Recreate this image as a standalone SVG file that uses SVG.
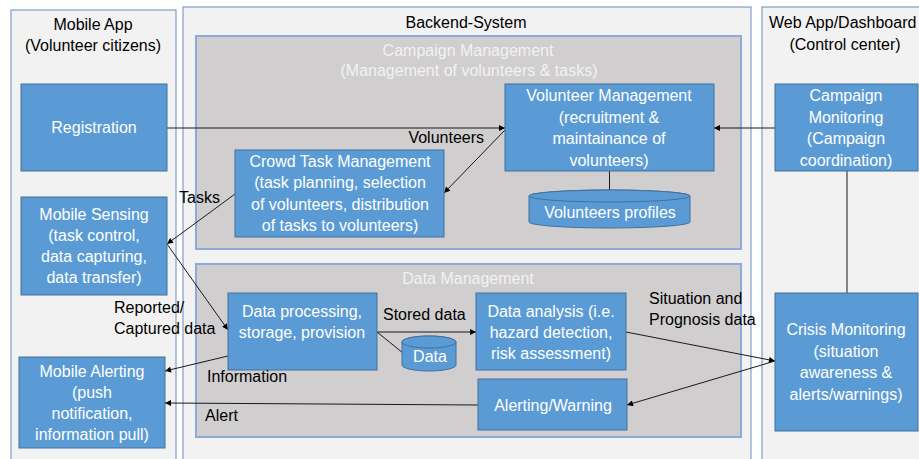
<svg xmlns="http://www.w3.org/2000/svg" width="919" height="459" viewBox="0 0 919 459">
<defs>
<marker id="arr" viewBox="0 0 10 10" refX="10" refY="5" markerWidth="7" markerHeight="6" markerUnits="userSpaceOnUse" orient="auto">
<path d="M0,0 L10,5 L0,10 Z" fill="#000"/>
</marker>
<style>
text{font-family:"Liberation Sans",Arial,sans-serif;font-size:16px}
.panel{fill:#f2f2f2;stroke:#7f9dc9;stroke-width:1.2}
.sub{fill:#d0cece;stroke:#8eaadb;stroke-width:2}
.box{fill:#5b9bd5;stroke:#41719c;stroke-width:1}
.w{fill:#fff;text-anchor:middle}
.t{fill:#f2f2f2;text-anchor:middle}
.h{fill:#000;text-anchor:middle}
.l{fill:#000}
.c{fill:none;stroke:#1a1a1a;stroke-width:1}
.ca{fill:none;stroke:#1a1a1a;stroke-width:1;marker-end:url(#arr)}
</style>
</defs>
<rect width="919" height="459" fill="#fff"/>

<g id="mobile-app">
<rect class="panel" x="11" y="10" width="165" height="470"/>
<text class="h" x="93" y="30">Mobile App</text>
<text class="h" x="93" y="51">(Volunteer citizens)</text>
</g>
<g id="backend">
<rect class="panel" x="183" y="7" width="568" height="470"/>
<text class="h" x="466" y="28">Backend-System</text>
</g>
<g id="web-app">
<rect class="panel" x="762" y="7" width="170" height="470"/>
<text class="l" x="769" y="28">Web App/Dashboard</text>
<text class="h" x="845" y="50">(Control center)</text>
</g>
<g id="campaign-management">
<rect class="sub" x="196" y="36" width="545" height="213"/>
<text class="t" x="468" y="56">Campaign Management</text>
<text class="t" x="469" y="76">(Management of volunteers &amp; tasks)</text>
</g>
<g id="data-management">
<rect class="sub" x="196" y="264" width="545" height="173"/>
<text class="t" x="468" y="284">Data Management</text>
</g>

<g id="connectors">
<line class="ca" x1="167" y1="128" x2="505" y2="128"/>
<line class="ca" x1="775" y1="128" x2="714" y2="128"/>
<line class="ca" x1="505" y1="130" x2="444" y2="193"/>
<line class="ca" x1="235" y1="194" x2="167" y2="244"/>
<line class="ca" x1="167" y1="244" x2="228" y2="330"/>
<line class="ca" x1="228" y1="356" x2="165" y2="371"/>
<line class="ca" x1="377" y1="332" x2="476" y2="332"/>
<line class="c" x1="377" y1="332" x2="403" y2="353"/>
<line class="ca" x1="626" y1="332" x2="775" y2="361"/>
<line class="ca" x1="775" y1="361" x2="627" y2="405"/>
<line class="ca" x1="478" y1="405" x2="165" y2="403"/>
<line class="c" x1="609.5" y1="171" x2="609.5" y2="191"/>
<line class="c" x1="847" y1="171" x2="847" y2="293"/>
</g>

<g id="registration">
<rect class="box" x="21" y="84" width="146" height="87"/>
<text class="w" x="94" y="133">Registration</text>
</g>
<g id="mobile-sensing">
<rect class="box" x="21" y="197" width="146" height="98"/>
<text class="w" x="94" y="220">Mobile Sensing</text>
<text class="w" x="94" y="241">(task control,</text>
<text class="w" x="94" y="262">data capturing,</text>
<text class="w" x="94" y="283">data transfer)</text>
</g>
<g id="mobile-alerting">
<rect class="box" x="19" y="357" width="146" height="91"/>
<text class="w" x="92" y="377">Mobile Alerting</text>
<text class="w" x="92" y="398">(push</text>
<text class="w" x="92" y="419">notification,</text>
<text class="w" x="92" y="440">information pull)</text>
</g>
<g id="crowd-task-management">
<rect class="box" x="235" y="150" width="209" height="87"/>
<text class="w" x="340" y="167">Crowd Task Management</text>
<text class="w" x="340" y="188">(task planning, selection</text>
<text class="w" x="340" y="210">of volunteers, distribution</text>
<text class="w" x="340" y="231">of tasks to volunteers)</text>
</g>
<g id="volunteer-management">
<rect class="box" x="505" y="84" width="209" height="87"/>
<text class="w" x="609" y="101">Volunteer Management</text>
<text class="w" x="609" y="123">(recruitment &amp;</text>
<text class="w" x="609" y="144">maintainance of</text>
<text class="w" x="609" y="166">volunteers)</text>
</g>
<g id="volunteers-profiles">
<path class="box" d="M529,196 V222 A80.5,6 0 0,0 690,222 V196 A80.5,6 0 0,0 529,196 Z"/>
<ellipse class="box" cx="609.5" cy="196" rx="80.5" ry="6"/>
<text class="w" x="610" y="218">Volunteers profiles</text>
</g>
<g id="campaign-monitoring">
<rect class="box" x="775" y="84" width="143" height="87"/>
<text class="w" x="846" y="101">Campaign</text>
<text class="w" x="846" y="123">Monitoring</text>
<text class="w" x="846" y="144">(Campaign</text>
<text class="w" x="846" y="166">coordination)</text>
</g>
<g id="crisis-monitoring">
<rect class="box" x="775" y="293" width="143" height="138"/>
<text class="w" x="846" y="335">Crisis Monitoring</text>
<text class="w" x="846" y="357">(situation</text>
<text class="w" x="846" y="378">awareness &amp;</text>
<text class="w" x="846" y="400">alerts/warnings)</text>
</g>
<g id="data-processing">
<rect class="box" x="228" y="293" width="149" height="77"/>
<text class="w" x="302" y="317">Data processing,</text>
<text class="w" x="302" y="338">storage, provision</text>
</g>
<g id="data">
<path class="box" d="M402,342 V365 A27,6 0 0,0 456,365 V342 A27,6 0 0,0 402,342 Z"/>
<ellipse class="box" cx="429" cy="342" rx="27" ry="6"/>
<text class="w" x="430" y="362">Data</text>
</g>
<g id="data-analysis">
<rect class="box" x="476" y="293" width="150" height="77"/>
<text class="w" x="551" y="317">Data analysis (i.e.</text>
<text class="w" x="551" y="338">hazard detection,</text>
<text class="w" x="551" y="359">risk assessment)</text>
</g>
<g id="alerting-warning">
<rect class="box" x="478" y="379" width="149" height="51"/>
<text class="w" x="553" y="411">Alerting/Warning</text>
</g>

<g id="labels">
<text class="l" x="484" y="143" text-anchor="end">Volunteers</text>
<text class="l" x="179" y="203">Tasks</text>
<text class="l" x="114" y="313">Reported/</text>
<text class="l" x="114" y="334">Captured data</text>
<text class="l" x="383" y="320">Stored data</text>
<text class="l" x="207" y="382">Information</text>
<text class="l" x="205" y="421">Alert</text>
<text class="l" x="649" y="304">Situation and</text>
<text class="l" x="649" y="325">Prognosis data</text>
</g>
</svg>
